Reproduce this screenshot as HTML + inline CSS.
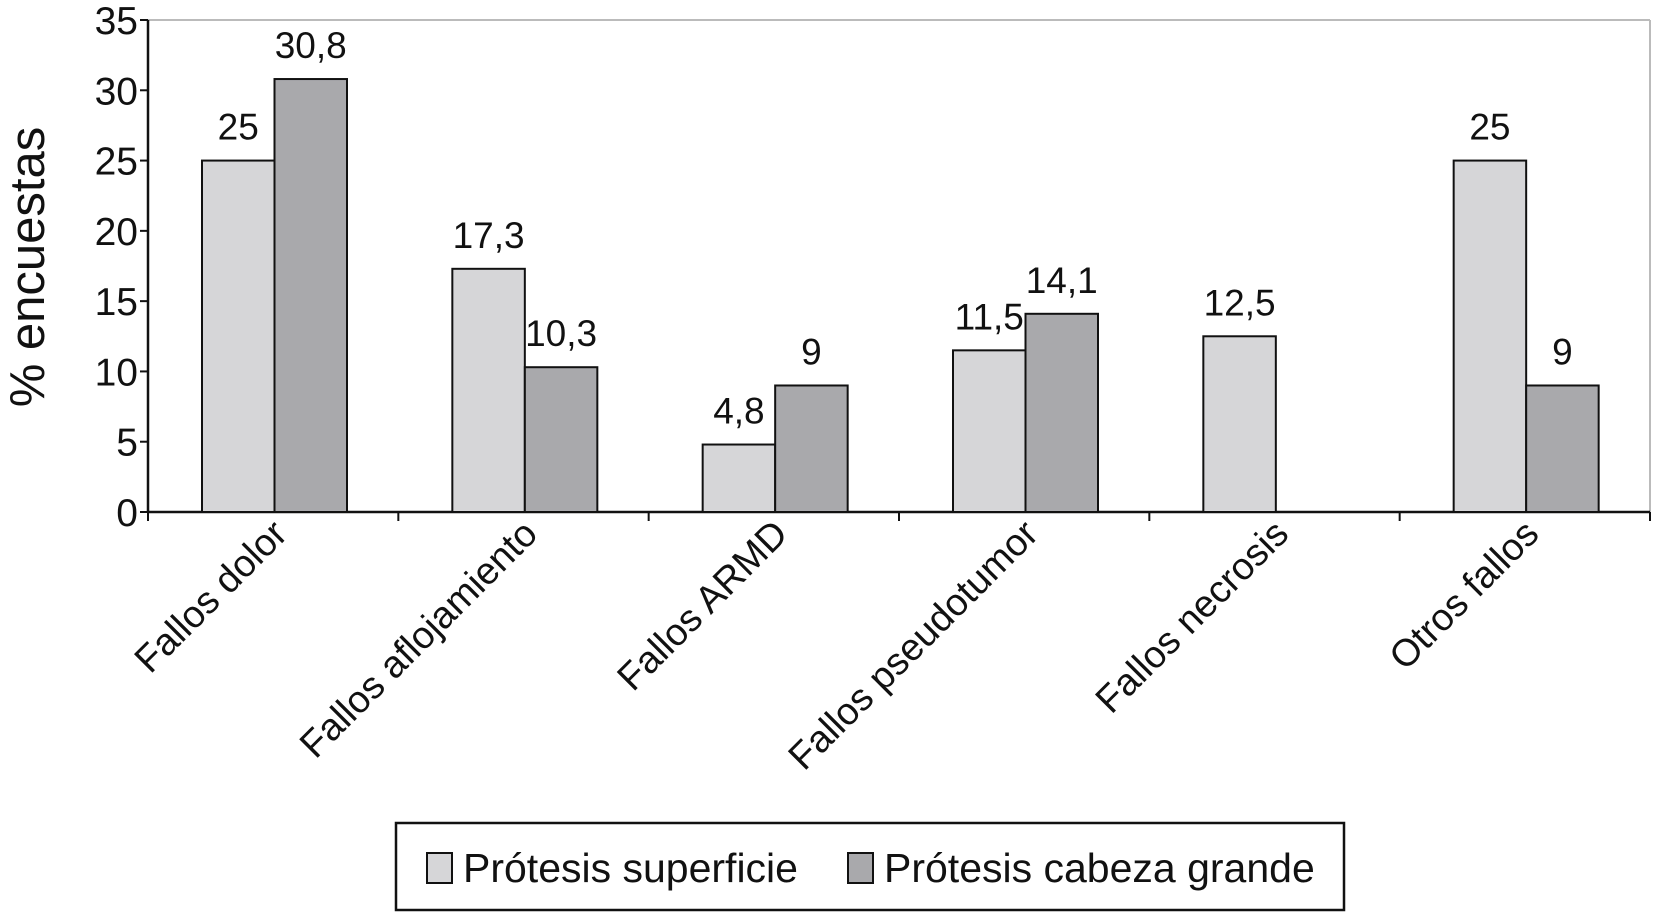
<!DOCTYPE html>
<html><head><meta charset="utf-8"><style>
html,body{margin:0;padding:0;background:#fff}
svg{display:block;font-family:"Liberation Sans",Arial,sans-serif}
</style></head><body>
<svg id="chart" width="1653" height="913"></svg>
<script>
const categories=["Fallos dolor","Fallos aflojamiento","Fallos ARMD","Fallos pseudotumor","Fallos necrosis","Otros fallos"];
const seriesSuperficie=[25,17.3,4.8,11.5,12.5,25];
const seriesCabeza=[30.8,10.3,9,14.1,null,9];
const yTicks=[0,5,10,15,20,25,30,35];
const seriesNames=["Prótesis superficie","Prótesis cabeza grande"];
const NS="http://www.w3.org/2000/svg";
const svg=document.getElementById('chart');
const X0=148,X1=1650,Y0=512,Y35=20;
const catW=(X1-X0)/categories.length;
const y=v=>Y0-(v/35)*(Y0-Y35);
const xCat=i=>X0+i*catW;
function el(t,a,txt){const e=document.createElementNS(NS,t);for(const k in a)e.setAttribute(k,a[k]);if(txt!=null)e.textContent=txt;svg.appendChild(e);return e;}
let f=el('line',{x1:X0,y1:Y35,x2:X1,y2:Y35,stroke:'#bbb','stroke-width':2});


f=el('line',{x1:X1,y1:Y35,x2:X1,y2:Y0,stroke:'#bbb','stroke-width':2});


let a=el('line',{x1:X0,y1:Y35,x2:X0,y2:Y0,stroke:'#111','stroke-width':2.5});


yTicks.forEach(t=>{
  const l=el('line',{x1:X0-8,y1:y(t),x2:X0,y2:y(t),stroke:'#111','stroke-width':2});
  
  
  const tx=el('text',{x:X0-10,y:y(t)+14,'text-anchor':'end','font-size':39,fill:'#111'},String(t));
  
  
});
let yt=el('text',{x:0,y:0,'font-size':49,fill:'#111','text-anchor':'middle',transform:'translate(44,267) rotate(-90)'},'% encuestas');


a=el('line',{x1:X0,y1:Y0,x2:X1,y2:Y0,stroke:'#111','stroke-width':2.5});


for(let i=0;i<=categories.length;i++){
  const l=el('line',{x1:xCat(i),y1:Y0,x2:xCat(i),y2:Y0+9,stroke:'#111','stroke-width':2});
  
  
}
const bw=72.5,off=54;
function bar(i,v,k,fill){
  if(v==null)return;
  const x=xCat(i)+off+k*bw;
  const r=el('rect',{x:x,y:y(v),width:bw,height:Y0-y(v),fill:fill,stroke:'#111','stroke-width':2});
  
  
  const t=el('text',{x:x+bw/2,y:y(v)-21,'text-anchor':'middle','font-size':37,fill:'#111'},String(v).replace('.',','));
  
  
}
categories.forEach((c,i)=>{
  bar(i,seriesSuperficie[i],0,'#d6d6d8');
  bar(i,seriesCabeza[i],1,'#a9a9ac');
  const cx=xCat(i)+catW/2+16;
  const t=el('text',{x:0,y:0,'text-anchor':'end','font-size':38,fill:'#111',transform:`translate(${cx},${Y0+24}) rotate(-45)`},c);
  
  
});
const lg=el('rect',{x:396,y:823,width:948,height:87,fill:'#fff',stroke:'#111','stroke-width':2.5});


[[427,'#d6d6d8',seriesNames[0]],[848,'#a9a9ac',seriesNames[1]]].forEach(([x,c,n],k)=>{
  const s=el('rect',{x:x,y:853,width:25,height:30,fill:c,stroke:'#111','stroke-width':2});
  
  
  const t=el('text',{x:x+36,y:882,'font-size':41,fill:'#111'},n);
  
  
});
</script>
</body></html>
